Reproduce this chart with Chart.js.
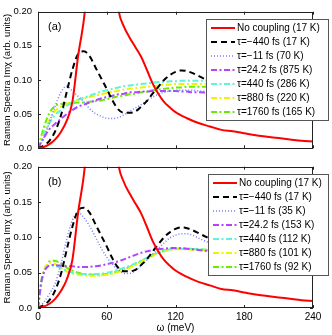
<!DOCTYPE html>
<html>
<head>
<meta charset="utf-8">
<script src="https://cdn.jsdelivr.net/npm/chart.js@4.4.1/dist/chart.umd.min.js"></script>
<style>
  html, body { margin: 0; padding: 0; background: #fff; }
  #wrap { position: relative; width: 332px; height: 335px; }
  canvas { position: absolute; left: 0; }
  #topChart { top: 0; }
  #bottomChart { top: 155px; }
</style>
</head>
<body>
<div id="wrap">
  <canvas id="topChart" width="332" height="160"></canvas>
  <canvas id="bottomChart" width="332" height="180"></canvas>
</div>
<script>
// --- data ---
const xTicks = [0, 60, 120, 180, 240];
const yTicks = [0, 0.05, 0.10, 0.15, 0.20];

const omegaRed = [0, 5, 10, 15, 20, 25, 30, 35, 40, 45, 50, 55, 60, 65, 70, 75, 80, 85, 90, 95, 100, 105, 110, 115, 120, 130, 140, 150, 160, 170, 180, 190, 200, 210, 220, 230, 240];
const noCoupling = [0, 0.002, 0.006, 0.013, 0.024, 0.040, 0.068, 0.135, 0.188, 0.27, 0.38, 0.45, 0.40, 0.29, 0.205, 0.178, 0.162, 0.148, 0.134, 0.115, 0.095, 0.080, 0.068, 0.060, 0.053, 0.044, 0.037, 0.032, 0.027, 0.025, 0.022, 0.019, 0.017, 0.015, 0.013, 0.011, 0.010];

const omegaTau = [0, 5, 10, 15, 20, 25, 30, 35, 40, 45, 50, 55, 60, 65, 70, 75, 80, 85, 90, 95, 100, 105, 110, 115, 120, 125, 130, 135, 140, 150, 160];
// same in both panels
const tauNeg440 = [0, 0.004, 0.011, 0.025, 0.048, 0.082, 0.115, 0.138, 0.142, 0.135, 0.119, 0.103, 0.087, 0.070, 0.057, 0.052, 0.052, 0.054, 0.061, 0.069, 0.080, 0.090, 0.100, 0.107, 0.112, 0.114, 0.113, 0.110, 0.106, 0.098, 0.090];

// panel (a)
const tauNeg11A = [0, 0.015, 0.038, 0.062, 0.082, 0.091, 0.084, 0.076, 0.068, 0.058, 0.051, 0.047, 0.044, 0.0435, 0.045, 0.049, 0.054, 0.059, 0.064, 0.070, 0.075, 0.079, 0.082, 0.084, 0.085, 0.085, 0.085, 0.085, 0.084, 0.083, 0.082];
const tau24A = [0, 0.015, 0.028, 0.036, 0.043, 0.050, 0.056, 0.061, 0.064, 0.067, 0.070, 0.073, 0.075, 0.077, 0.079, 0.080, 0.082, 0.082, 0.083, 0.083, 0.084, 0.084, 0.084, 0.084, 0.084, 0.083, 0.083, 0.082, 0.082, 0.081, 0.080];
const tau440A = [0, 0.020, 0.037, 0.049, 0.056, 0.062, 0.067, 0.071, 0.074, 0.077, 0.080, 0.083, 0.085, 0.087, 0.089, 0.091, 0.092, 0.093, 0.094, 0.095, 0.096, 0.097, 0.097, 0.098, 0.098, 0.099, 0.099, 0.099, 0.099, 0.099, 0.098];
const tau880A = [0, 0.022, 0.042, 0.055, 0.061, 0.065, 0.068, 0.071, 0.073, 0.075, 0.077, 0.079, 0.081, 0.083, 0.084, 0.086, 0.087, 0.088, 0.089, 0.090, 0.091, 0.092, 0.093, 0.093, 0.094, 0.094, 0.094, 0.094, 0.094, 0.094, 0.093];
const tau1760A = [0, 0.030, 0.052, 0.062, 0.065, 0.066, 0.066, 0.067, 0.067, 0.068, 0.069, 0.070, 0.072, 0.074, 0.076, 0.077, 0.079, 0.080, 0.082, 0.083, 0.085, 0.086, 0.087, 0.088, 0.089, 0.089, 0.090, 0.090, 0.090, 0.090, 0.089];

// panel (b)
const tauNeg11B = [0, 0.008, 0.020, 0.035, 0.062, 0.097, 0.124, 0.135, 0.128, 0.116, 0.101, 0.085, 0.072, 0.062, 0.054, 0.049, 0.049, 0.053, 0.060, 0.068, 0.076, 0.084, 0.092, 0.099, 0.103, 0.105, 0.105, 0.103, 0.099, 0.092, 0.085];
const omegaLow = [0, 3, 5, 8, 10, 14, 18, 22, 26, 30, 35, 40, 50, 60, 70, 80, 90, 100, 110, 120, 130, 140, 150, 160];
const tau24B = [0, 0.038, 0.050, 0.058, 0.060, 0.061, 0.060, 0.060, 0.059, 0.059, 0.058, 0.058, 0.059, 0.062, 0.066, 0.072, 0.078, 0.082, 0.084, 0.085, 0.084, 0.082, 0.080, 0.078];
const tau440B = [0, 0.038, 0.050, 0.058, 0.060, 0.060, 0.058, 0.055, 0.052, 0.050, 0.049, 0.048, 0.048, 0.050, 0.054, 0.060, 0.067, 0.075, 0.081, 0.084, 0.084, 0.083, 0.082, 0.080];
const tau880B = [0, 0.040, 0.053, 0.062, 0.064, 0.063, 0.059, 0.055, 0.051, 0.049, 0.047, 0.046, 0.0455, 0.047, 0.051, 0.057, 0.065, 0.074, 0.080, 0.083, 0.083, 0.082, 0.081, 0.079];
const tau1760B = [0, 0.035, 0.050, 0.062, 0.066, 0.067, 0.065, 0.061, 0.056, 0.053, 0.050, 0.048, 0.047, 0.048, 0.052, 0.058, 0.066, 0.075, 0.081, 0.084, 0.084, 0.083, 0.082, 0.080];

const labelsA = ['No coupling (17 K)', 'τ=−440 fs (17 K)', 'τ=−11 fs (70 K)', 'τ=24.2 fs (875 K)', 'τ=440 fs (286 K)', 'τ=880 fs (220 K)', 'τ=1760 fs (165 K)'];
const labelsB = ['No coupling (17 K)', 'τ=−440 fs (17 K)', 'τ=−11 fs (35 K)', 'τ=24.2 fs (153 K)', 'τ=440 fs (112 K)', 'τ=880 fs (101 K)', 'τ=1760 fs (92 K)'];

// line looks, one per curve
const colors = ['#ff0000', '#000000', '#6f7bff', '#b044ff', '#5ef5d6', '#f2f200', '#66ee00'];
const dashes = [[], [6, 4], [1, 2], [6, 2.5, 2, 2.5], [6, 2.5, 2, 2.5], [6, 2.5, 2, 2.5], [6, 2.5, 2, 2.5]];
const widths = [2, 2, 1.5, 2, 2, 2, 2];

const FONT = "'Liberation Sans', Arial, Helvetica, sans-serif";
Chart.defaults.font.family = FONT;
Chart.defaults.color = '#000';

function pts(xs, ys) {
  return xs.map((x, i) => ({ x: x, y: ys[i] }));
}

function makeDatasets(series, labels) {
  return series.map((s, i) => ({
    label: labels[i],
    data: pts(s[0], s[1]),
    borderColor: colors[i],
    borderDash: dashes[i],
    borderWidth: widths[i],
    pointRadius: 0,
    fill: false,
    cubicInterpolationMode: 'monotone',
    clip: 0
  }));
}

// frame, inward ticks, panel letter and the boxed legend
const framePlugin = {
  id: 'framePlugin',
  afterDatasetsDraw(chart, args, opts) {
    const ctx = chart.ctx, a = chart.chartArea;
    const sx = chart.scales.x, sy = chart.scales.y;
    ctx.save();
    ctx.strokeStyle = '#222';
    ctx.lineWidth = 1;
    ctx.setLineDash([]);
    ctx.strokeRect(Math.round(a.left) + 0.5, Math.round(a.top) + 0.5, Math.round(a.width) - 1, Math.round(a.height) - 1);
    ctx.beginPath();
    xTicks.forEach(v => {
      const px = Math.round(sx.getPixelForValue(v)) + 0.5;
      ctx.moveTo(px, a.bottom); ctx.lineTo(px, a.bottom - 3);
      ctx.moveTo(px, a.top); ctx.lineTo(px, a.top + 3);
    });
    yTicks.forEach(v => {
      const py = Math.round(sy.getPixelForValue(v)) + 0.5;
      ctx.moveTo(a.left, py); ctx.lineTo(a.left + 3, py);
      ctx.moveTo(a.right, py); ctx.lineTo(a.right - 3, py);
    });
    ctx.stroke();

    ctx.fillStyle = '#000';
    ctx.font = '11px ' + FONT;
    ctx.textBaseline = 'middle';
    ctx.fillText(opts.panel, a.left + 10, a.top + 15);

    const lx = Math.round(a.left + opts.dx), ly = Math.round(a.top + 7);
    const lw = opts.w, lh = 101;
    ctx.fillStyle = '#fff';
    ctx.fillRect(lx, ly, lw, lh);
    ctx.strokeStyle = '#555';
    ctx.strokeRect(lx + 0.5, ly + 0.5, lw, lh);
    ctx.font = '10px ' + FONT;
    chart.data.datasets.forEach((ds, i) => {
      const y = ly + 9 + 14 * i;
      ctx.strokeStyle = ds.borderColor;
      ctx.lineWidth = ds.borderWidth;
      ctx.setLineDash(ds.borderDash);
      ctx.beginPath();
      ctx.moveTo(lx + 5, y); ctx.lineTo(lx + 29, y);
      ctx.stroke();
      ctx.setLineDash([]);
      ctx.fillStyle = '#000';
      ctx.fillText(ds.label, lx + 31, y);
    });
    ctx.restore();
  }
};

function makeChart(id, datasets, panel, showX, xHeight, dx, w) {
  return new Chart(document.getElementById(id), {
    type: 'line',
    data: { datasets: datasets },
    options: {
      responsive: false,
      animation: false,
      devicePixelRatio: 1,
      layout: { padding: { top: 9, right: 19, left: 0, bottom: 0 } },
      plugins: {
        legend: { display: false },
        tooltip: { enabled: false },
        framePlugin: { panel: panel, dx: dx, w: w }
      },
      scales: {
        x: {
          type: 'linear', min: 0, max: 240,
          afterBuildTicks: s => { s.ticks = xTicks.map(v => ({ value: v })); },
          afterFit: s => { s.height = xHeight; },
          grid: { display: false, drawTicks: false },
          border: { display: false },
          ticks: { display: showX, padding: 3, font: { size: 10 }, maxRotation: 0 },
          title: { display: showX, text: 'ω (meV)', font: { size: 10 }, padding: { top: 0, bottom: 1 } }
        },
        y: {
          type: 'linear', min: 0, max: 0.2,
          afterBuildTicks: s => { s.ticks = yTicks.map(v => ({ value: v })); },
          afterFit: s => { s.width = 38; },
          grid: { display: false, drawTicks: false },
          border: { display: false },
          ticks: { padding: 6, font: { size: 9.5 }, callback: v => v === 0 ? '0.0' : v.toFixed(2) },
          title: { display: true, text: 'Raman Spectra Imχ (arb. units)', font: { size: 9.5 }, padding: { top: 2, bottom: 0 } }
        }
      }
    },
    plugins: [framePlugin]
  });
}

const seriesA = [[omegaRed, noCoupling], [omegaTau, tauNeg440], [omegaTau, tauNeg11A], [omegaTau, tau24A], [omegaTau, tau440A], [omegaTau, tau880A], [omegaTau, tau1760A]];
const seriesB = [[omegaRed, noCoupling], [omegaTau, tauNeg440], [omegaTau, tauNeg11B], [omegaLow, tau24B], [omegaLow, tau440B], [omegaLow, tau880B], [omegaLow, tau1760B]];

makeChart('topChart', makeDatasets(seriesA, labelsA), '(a)', false, 7, 168, 122);
makeChart('bottomChart', makeDatasets(seriesB, labelsB), '(b)', true, 27, 170, 120);
</script>
</body>
</html>
